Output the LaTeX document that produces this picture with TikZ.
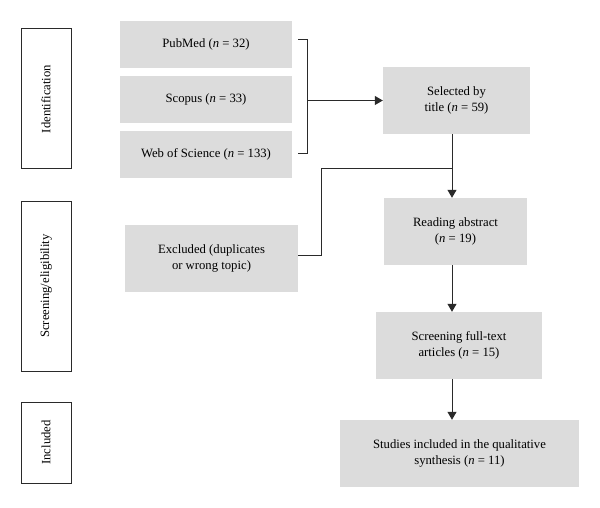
\documentclass[tikz,border=0pt]{standalone}
\usepackage{fontspec}
\setmainfont{Liberation Serif}
\usetikzlibrary{arrows.meta,calc}
\definecolor{boxgray}{HTML}{DCDCDC}
\definecolor{linegray}{HTML}{2A2A2A}
\tikzset{
  graybox/.style={fill=boxgray, draw=none, align=center, font=\fontsize{12.7}{16.5}\selectfont, text=black, inner sep=2pt},
  stagebox/.style={draw=linegray, line width=1pt, fill=white, minimum width=50pt, font=\fontsize{12.7}{15}\selectfont},
  conn/.style={draw=linegray, line width=1pt},
  arr/.style={conn, -{Triangle[length=8pt,width=9pt]}}
}
\begin{document}
\begin{tikzpicture}[x=1pt,y=-1pt]
\useasboundingbox (0,0) rectangle (600,508);
% stage labels
\node[stagebox, minimum height=140pt] (ident) at (46,99) {\rotatebox{90}{Identification}};
\node[stagebox, minimum height=170pt] (screen) at (46,286) {\rotatebox{90}{Screening/eligibility}};
\node[stagebox, minimum height=81pt] (incl) at (46,442.5) {\rotatebox{90}{Included}};
% sources
\node[graybox, minimum width=172pt, minimum height=47pt] (pub) at (206,44.5) {PubMed (\textit{n} = 32)};
\node[graybox, minimum width=172pt, minimum height=47pt] (sco) at (206,99.5) {Scopus (\textit{n} = 33)};
\node[graybox, minimum width=172pt, minimum height=47pt] (wos) at (206,154.5) {Web of Science (\textit{n} = 133)};
% flow
\node[graybox, minimum width=147pt, minimum height=67pt] (sel) at (456.5,100.5) {Selected by\\title (\textit{n} = 59)};
\node[graybox, minimum width=143pt, minimum height=67pt] (read) at (455.5,231.5) {Reading abstract\\(\textit{n} = 19)};
\node[graybox, minimum width=166pt, minimum height=67pt] (full) at (459,345.5) {Screening full-text\\articles (\textit{n} = 15)};
\node[graybox, minimum width=239pt, minimum height=67pt] (stud) at (459.5,453.5) {Studies included in the qualitative\\synthesis (\textit{n} = 11)};
\node[graybox, minimum width=173pt, minimum height=67pt] (excl) at (211.5,258.5) {Excluded (duplicates\\or wrong topic)};
% coordinates
\coordinate (ax) at (452,0);
\coordinate (bt) at (298,40);
\coordinate (bb) at (298,154);
\coordinate (bx) at (307,0);
\coordinate (split) at (452,169);
\coordinate (ex) at (321,0);
% bracket
\draw[conn] (bt) -- (bt -| bx) -- (bb -| bx) -- (bb);
\draw[arr] (sel.west -| bx) -- (sel.west);
% vertical flow
\draw[arr] (sel.south -| ax) -- (read.north -| ax);
\draw[arr] (read.south -| ax) -- (full.north -| ax);
\draw[arr] (full.south -| ax) -- (stud.north -| ax);
% excluded branch
\draw[conn] (split) -- (split -| ex) |- ($(excl.east)+(0,-3)$);
\end{tikzpicture}
\end{document}
